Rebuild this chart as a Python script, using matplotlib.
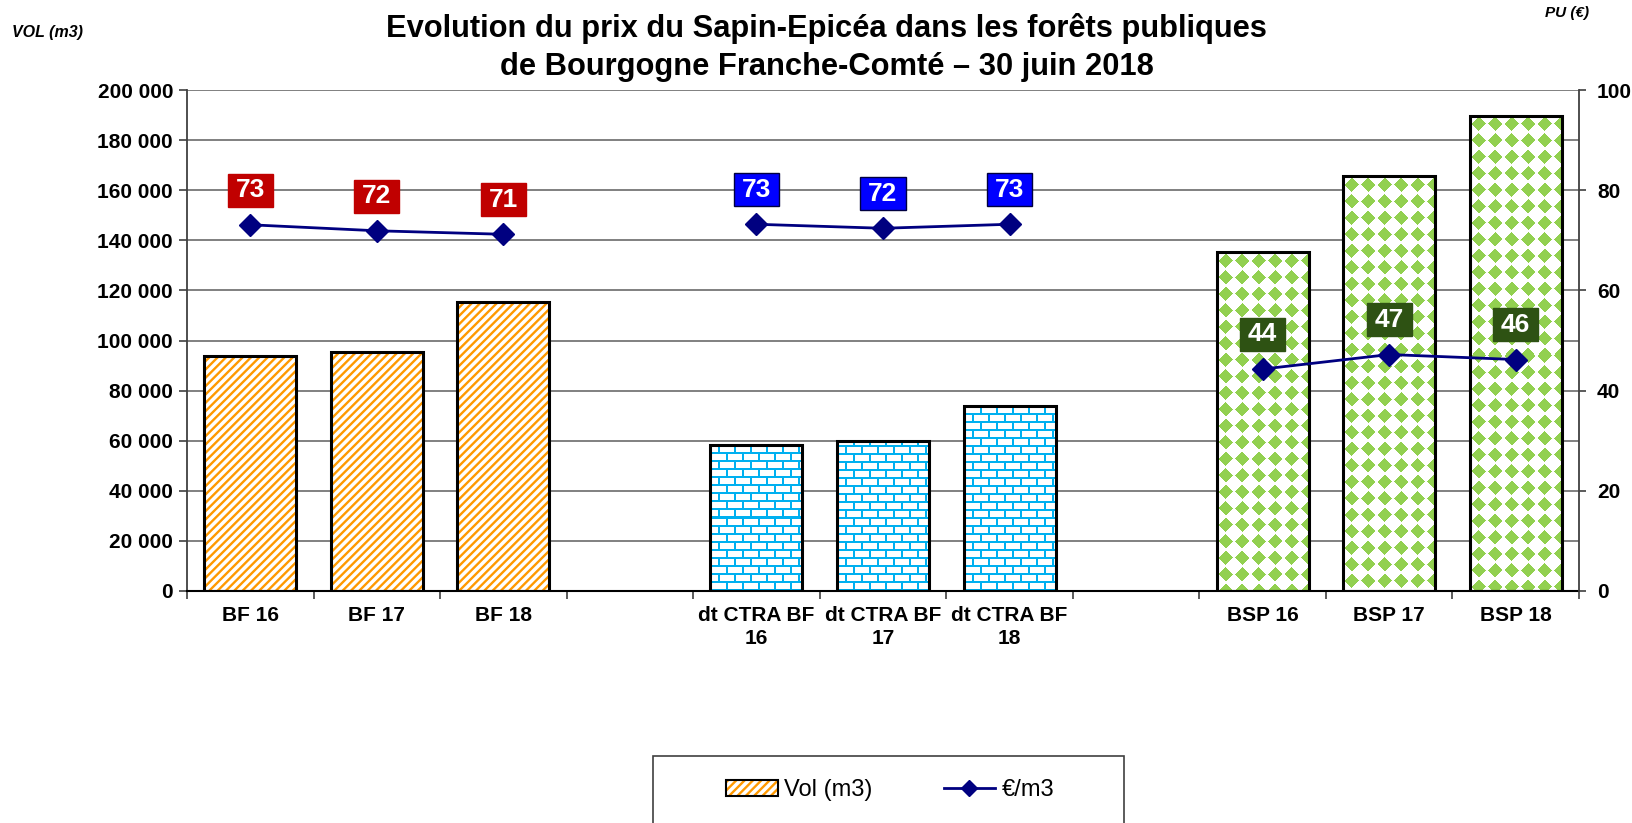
import numpy as np
import matplotlib
matplotlib.use('Agg')
import matplotlib.pyplot as plt
from matplotlib.patches import Patch, Rectangle
from matplotlib.lines import Line2D
from matplotlib.path import Path
from matplotlib.legend_handler import HandlerTuple
from matplotlib.ticker import FuncFormatter, FixedLocator

# ---------------- data ----------------
categories = ['BF 16', 'BF 17', 'BF 18', '',
              'dt CTRA BF\n16', 'dt CTRA BF\n17', 'dt CTRA BF\n18', '',
              'BSP 16', 'BSP 17', 'BSP 18']
volumes = [93700, 95400, 115400, np.nan,
           58300, 59700, 73700, np.nan,
           135300, 165600, 189800]
prices = [73.1, 71.9, 71.2, np.nan,
          73.2, 72.4, 73.2, np.nan,
          44.3, 47.2, 46.2]
groups = [0, 0, 0, -1, 1, 1, 1, -1, 2, 2, 2]

title_lines = ["Evolution du prix du Sapin-Epicéa dans les forêts publiques",
               "de Bourgogne Franche-Comté \u2013 30 juin 2018"]
left_label = "VOL (m3)"
right_label = "PU (\u20ac)"
legend_labels = ["Vol (m3)", "\u20ac/m3"]

# ---------------- style ----------------
FONT = 'Liberation Sans'
plt.rcParams['font.family'] = [FONT, 'DejaVu Sans']
plt.rcParams['hatch.linewidth'] = 1.7

W, H = 1633, 823
DPI = 100
fig = plt.figure(figsize=(W / DPI, H / DPI), dpi=DPI)
L, R, T, B = 187, 1579, 90, 591
ax = fig.add_axes([L / W, 1 - B / H, (R - L) / W, (B - T) / H])
ax2 = ax.twinx()

ORANGE = '#FF9900'
CYAN = '#00B0F0'
GREEN = '#92D050'
LINE = '#000080'
box_colors = {0: '#C00000', 1: '#0000FF', 2: '#2E5213'}
box_edges = {0: '#C00000', 1: '#000040', 2: '#2E5213'}

x = np.arange(len(categories))
bw = 0.727

ax.set_xlim(-0.5, len(categories) - 0.5)
ax.set_ylim(0, 200000)
ax.autoscale(False)
ax2.set_ylim(0, 100)

# grid
ax.set_axisbelow(True)
ax.yaxis.grid(True, color='#808080', lw=1.4, zorder=0)
ax.set_yticks(np.arange(0, 200001, 20000))
ax.yaxis.set_major_formatter(FuncFormatter(lambda v, p: f"{int(v):,}".replace(',', ' ')))
ax2.set_yticks(np.arange(0, 101, 20))


def bricks(h, w):
    arr = np.ones((h, w, 3))
    c = np.array(matplotlib.colors.to_rgb(CYAN))
    yy, xx = np.mgrid[0:h, 0:w]
    row = (h - 1 - yy) // 8
    hline = ((h - 1 - yy) % 8) < 2
    off = np.where(row % 2 == 1, 8, 0)
    vline = ((xx + off) % 16) < 2
    arr[hline | vline] = c
    return arr


def diamonds(h, w):
    arr = np.ones((h, w, 3))
    c = np.array(matplotlib.colors.to_rgb(GREEN))
    yy, xx = np.mgrid[0:h, 0:w]
    dx = (xx % 16.5) - 8.25
    dy = (yy % 16.5) - 8.25
    mask = (np.abs(dx) + np.abs(dy)) <= 7.0
    arr[mask] = c
    return arr


for i in range(len(categories)):
    v = volumes[i]
    if np.isnan(v):
        continue
    g = groups[i]
    x0, x1 = x[i] - bw / 2, x[i] + bw / 2
    if g == 0:
        ax.bar(x[i], v, width=bw, facecolor='white', edgecolor=ORANGE,
               hatch='////', lw=0, zorder=2)
    else:
        p0 = ax.transData.transform((x0, 0))
        p1 = ax.transData.transform((x1, v))
        wp = int(round(p1[0] - p0[0]))
        hp = int(round(p1[1] - p0[1]))
        img = bricks(hp, wp) if g == 1 else diamonds(hp, wp)
        ax.imshow(img, extent=(x0, x1, 0, v), origin='upper',
                  interpolation='nearest', aspect='auto', zorder=2)
    ax.bar(x[i], v, width=bw, facecolor='none', edgecolor='black',
           lw=2.2, zorder=3)

ax.set_xlim(-0.5, len(categories) - 0.5)
ax.set_ylim(0, 200000)


def label_box(x0, y0, width, height, mutation_size):
    px = 0.30 * mutation_size
    py = 0.17 * mutation_size
    xa, xb = x0 - px, x0 + width + px
    ya, yb = y0 - py, y0 + height + py
    return Path([(xa, ya), (xb, ya), (xb, yb), (xa, yb), (xa, ya)],
                closed=True)


# price line
ax2.plot(x, prices, color=LINE, lw=2, marker='D', ms=11.5,
         markerfacecolor=LINE, markeredgecolor=LINE, zorder=5)
for i in range(len(categories)):
    p = prices[i]
    if np.isnan(p):
        continue
    g = groups[i]
    ax2.annotate(f"{p:.0f}", (x[i], p), xytext=(0, 25.0), textcoords='offset points',
                 ha='center', va='center', color='white', fontsize=19,
                 fontweight='bold',
                 bbox=dict(boxstyle=label_box, fc=box_colors[g],
                           ec=box_edges[g], lw=1.0),
                 zorder=6)

# ticks
ax.set_xticks(x)
ax.set_xticklabels(categories, fontsize=15, fontweight='bold', linespacing=1.25)
ax.xaxis.set_minor_locator(FixedLocator(np.arange(-0.5, len(categories), 1.0)))
ax.tick_params(axis='x', which='major', length=0, pad=11)
ax.tick_params(axis='x', which='minor', length=6, width=1.2, direction='out', color='#404040')
ax.tick_params(axis='y', length=6, width=1.2, direction='out', labelsize=15, pad=4, color='#404040')
for t in ax.get_yticklabels():
    t.set_fontweight('bold')
ax2.tick_params(axis='y', length=5, width=1.2, direction='out', labelsize=15, pad=8, color='#404040')
for t in ax2.get_yticklabels():
    t.set_fontweight('bold')

for a in (ax, ax2):
    a.spines['top'].set_visible(False)
ax.spines['left'].set_color('#404040')
ax.spines['left'].set_linewidth(1.3)
ax2.spines['right'].set_color('#404040')
ax2.spines['right'].set_linewidth(1.3)
ax2.spines['left'].set_visible(False)
ax2.spines['bottom'].set_visible(False)
ax.spines['right'].set_visible(False)
ax.spines['bottom'].set_color('black')
ax.spines['bottom'].set_linewidth(1.5)

# titles / axis labels
fig.text(826 / W, 1 - 36.5 / H, title_lines[0], ha='center', va='baseline',
         fontsize=22.2, fontweight='bold')
fig.text(827 / W, 1 - 74.5 / H, title_lines[1], ha='center', va='baseline',
         fontsize=22.2, fontweight='bold')
fig.text(12.5 / W, 1 - 33 / H, left_label, ha='left', va='center',
         fontsize=11.5, fontweight='bold', fontstyle='italic')
fig.text(1545 / W, 1 - 12.5 / H, right_label, ha='left', va='center',
         fontsize=11, fontweight='bold', fontstyle='italic')

# legend
fig.patches.append(Rectangle((653 / W, -0.05), (1124 - 653) / W, 0.05 + 1 - 756 / H,
                             transform=fig.transFigure, facecolor='white',
                             edgecolor='#404040', lw=1.2, zorder=0))
h_bar = (Patch(facecolor='white', edgecolor=ORANGE, hatch='////', lw=0),
         Patch(facecolor='none', edgecolor='black', lw=1.5))
h_line = Line2D([], [], color=LINE, lw=2, marker='D', ms=8.5)
leg = fig.legend([h_bar, h_line], legend_labels,
                 handler_map={tuple: HandlerTuple(ndivide=1, pad=0)},
                 loc='center left', bbox_to_anchor=(726 / W, 1 - 790 / H),
                 ncol=2, frameon=False, fontsize=17, borderpad=0,
                 borderaxespad=0, handlelength=2.2, handleheight=0.64,
                 handletextpad=0.27, columnspacing=3.0)

fig.savefig('out.png', dpi=DPI)
